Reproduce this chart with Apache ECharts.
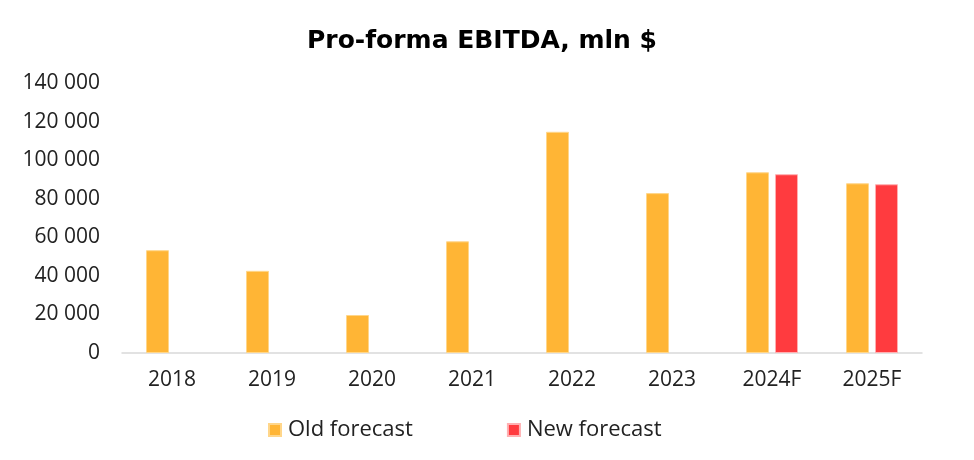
<!DOCTYPE html>
<html>
<head>
<meta charset="utf-8">
<script src="https://cdn.jsdelivr.net/npm/echarts@6/dist/echarts.min.js"></script>
<style>html,body{margin:0;padding:0;background:#fff}#c{width:974px;height:460px}</style>
</head>
<body>
<div id="c"></div>
<script>
const categories = ['2018','2019','2020','2021','2022','2023','2024F','2025F'];
const oldForecast = [53300, 42600, 19700, 57900, 114700, 82900, 93700, 88000];
const newForecast = [null, null, null, null, null, null, 92700, 87500];
const yTicks = [0, 20000, 40000, 60000, 80000, 100000, 120000, 140000];

const fmt = v => String(v).replace(/\B(?=(\d{3})+(?!\d))/g, ' ');
const FONT = '"Open Sans", "DejaVu Sans", sans-serif';
const chart = echarts.init(document.getElementById('c'));
chart.setOption({
  animation: false,
  title: {
    text: 'Pro-forma EBITDA, mln $',
    left: 302, top: 24,
    textStyle: {fontFamily: '"DejaVu Sans", sans-serif', fontSize: 25, fontWeight: 'bold', color: '#000'}
  },
  legend: {
    bottom: 14, left: 263,
    itemWidth: 12, itemHeight: 12, itemGap: 94,
    icon: 'rect',
    textStyle: {fontFamily: FONT, fontSize: 22, color: '#222', padding: [0,0,0,2]},
    data: ['Old forecast', 'New forecast']
  },
  grid: {left: 122, right: 52, top: 83, bottom: 107, containLabel: false},
  xAxis: {
    type: 'category', data: categories,
    axisLine: {lineStyle: {color: '#d9d9d9', width: 1.5}},
    axisTick: {show: false},
    axisLabel: {fontFamily: FONT, fontSize: 21, color: '#222', margin: 17}
  },
  yAxis: {
    type: 'value', min: yTicks[0], max: yTicks[yTicks.length-1], interval: 20000,
    splitLine: {show: false},
    axisLine: {show: false}, axisTick: {show: false},
    axisLabel: {fontFamily: FONT, fontSize: 21, color: '#222', margin: 22, formatter: v => fmt(v)}
  },
  series: [
    {name: 'Old forecast', type: 'bar', data: oldForecast, barWidth: 23, barGap: '26%',
     itemStyle: {color: '#FFB535', borderColor: '#FFD68A', borderWidth: 1}},
    {name: 'New forecast', type: 'bar', data: newForecast, barWidth: 23,
     itemStyle: {color: '#FF3B3F', borderColor: '#FFB0B2', borderWidth: 1}}
  ]
});
</script>
</body>
</html>
